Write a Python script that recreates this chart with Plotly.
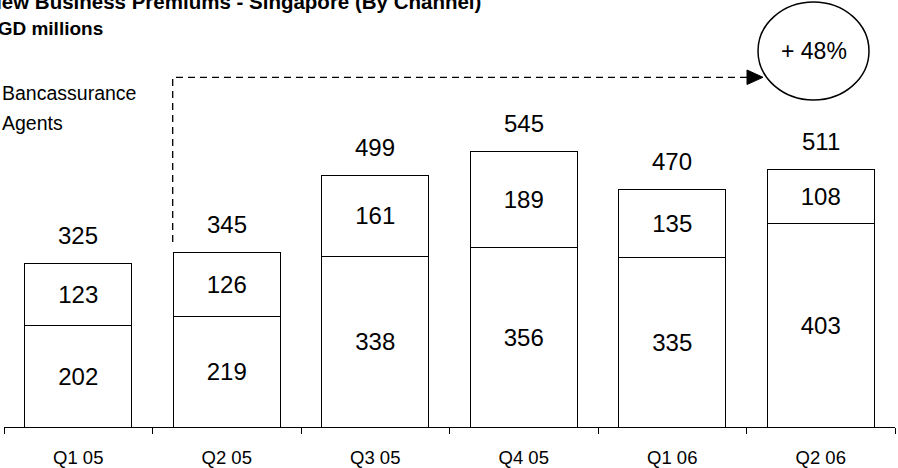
import plotly.graph_objects as go

# ---- data ----
quarters = ["Q1 05", "Q2 05", "Q3 05", "Q4 05", "Q1 06", "Q2 06"]
agents = [202, 219, 338, 356, 335, 403]
bancassurance = [123, 126, 161, 189, 135, 108]
totals = [a + b for a, b in zip(agents, bancassurance)]
growth_label = "+ 48%"

# ---- layout geometry (pixels) ----
W, H = 898, 468
ML, MR, MT, MB = 4, 3, 0, 41
PLOT_W = W - ML - MR
PLOT_H = H - MT - MB
PX_PER_UNIT = 0.5046
YMAX = PLOT_H / PX_PER_UNIT
CAT_W = PLOT_W / len(quarters)


def dx(px):
    return -0.5 + (px - ML) / CAT_W


def dy(py):
    return (H - MB - py) / PX_PER_UNIT


def px_paper_x(px):
    return (px - ML) / PLOT_W


def px_paper_y(py):
    return (H - MB - py) / PLOT_H


FONT = "Arial, Liberation Sans, sans-serif"
LABEL_SIZE = 24

fig = go.Figure()
for name, vals in [("Agents", agents), ("Bancassurance", bancassurance)]:
    fig.add_trace(go.Bar(
        x=quarters, y=vals, name=name,
        marker=dict(color="white", line=dict(color="black", width=1)),
        text=vals, textposition="inside", insidetextanchor="middle",
        textfont=dict(size=LABEL_SIZE, color="black", family=FONT),
        constraintext="none", showlegend=False,
        hoverinfo="skip",
    ))

annotations = []
for q, t in zip(quarters, totals):
    annotations.append(dict(x=q, y=t, yshift=28, text=str(t), showarrow=False,
                            xanchor="center", yanchor="middle",
                            font=dict(size=LABEL_SIZE, color="black", family=FONT)))

# title (cropped at left and top, as in the reference)
annotations.append(dict(xref="paper", yref="paper", x=px_paper_x(483), y=px_paper_y(1),
                        text="<b>New Business Premiums - Singapore (By Channel)</b>",
                        showarrow=False, xanchor="right", yanchor="middle",
                        font=dict(size=20.5, color="black", family=FONT)))
annotations.append(dict(xref="paper", yref="paper", x=px_paper_x(105), y=px_paper_y(28.5),
                        text="<b>SGD millions</b>",
                        showarrow=False, xanchor="right", yanchor="middle",
                        font=dict(size=19, color="black", family=FONT)))
# legend labels
for label, py in [("Bancassurance", 93), ("Agents", 123)]:
    annotations.append(dict(xref="paper", yref="paper", x=px_paper_x(0), y=px_paper_y(py),
                            text=label, showarrow=False, xanchor="left", yanchor="middle",
                            font=dict(size=19.5, color="black", family=FONT)))
# growth label
annotations.append(dict(x=dx(813.5), y=dy(51), text=growth_label, showarrow=False,
                        xanchor="center", yanchor="middle",
                        font=dict(size=23, color="black", family=FONT)))

shapes = [
    # dashed connector
    dict(type="path",
         path=f"M {dx(172.7)} {dy(242)} L {dx(172.7)} {dy(77.3)} L {dx(749)} {dy(77.3)}",
         line=dict(color="black", width=1.3, dash="7px,5px")),
    # arrowhead
    dict(type="path",
         path=f"M {dx(747)} {dy(70)} L {dx(763)} {dy(77.3)} L {dx(747)} {dy(84.5)} Z",
         fillcolor="black", line=dict(color="black", width=1)),
    # circle
    dict(type="circle", x0=dx(758), x1=dx(869), y0=dy(100), y1=dy(2),
         line=dict(color="black", width=1.5), fillcolor="rgba(0,0,0,0)"),
]

fig.update_layout(
    width=W, height=H,
    margin=dict(l=ML, r=MR, t=MT, b=MB),
    barmode="stack", bargap=0.28,
    plot_bgcolor="white", paper_bgcolor="white",
    font=dict(family=FONT, color="black"),
    annotations=annotations, shapes=shapes,
    xaxis=dict(type="category", range=[-0.5, len(quarters) - 0.5],
               showline=True, linecolor="black", linewidth=1,
               ticks="outside", tickson="boundaries", ticklen=6, tickcolor="black",
               tickfont=dict(size=18.5, color="black", family=FONT),
               ticklabelstandoff=14, showgrid=False, zeroline=False, fixedrange=True),
    yaxis=dict(range=[0, YMAX], visible=False, showgrid=False, zeroline=False, fixedrange=True),
)

fig.write_html("out.html", config={"displayModeBar": False},
               post_script="document.body.style.margin='0';document.body.style.padding='0';")
